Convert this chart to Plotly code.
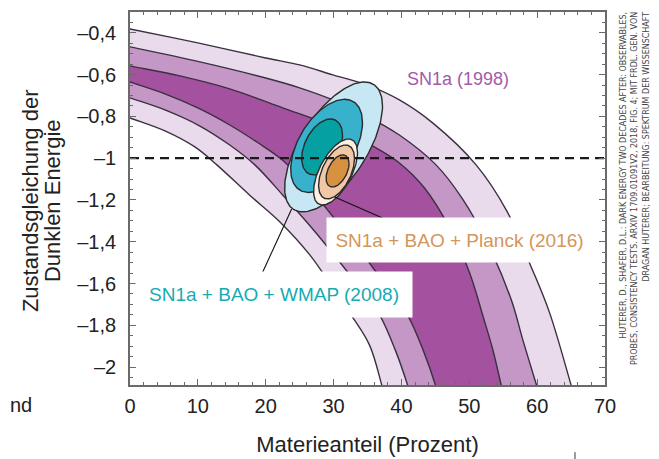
import numpy as np
import plotly.graph_objects as go

# ---------------- data ----------------
x_tick_vals = [0, 10, 20, 30, 40, 50, 60, 70]
y_tick_vals = [-0.4, -0.6, -0.8, -1.0, -1.2, -1.4, -1.6, -1.8, -2.0]
y_tick_text = ["–0,4", "–0,6", "–0,8", "–1", "–1,2", "–1,4", "–1,6", "–1,8", "–2"]

# SN1a (1998) confidence-band boundaries (Materieanteil %, w)
sn_3s_upper_x = [-3, 0, 10, 20, 25, 29.9, 34.9, 39.7, 44.6, 51.0, 55.6, 59.0, 61.8, 65.0, 66.1]
sn_3s_upper_y = [-0.361, -0.381, -0.448, -0.520, -0.553, -0.601, -0.649, -0.721, -0.831, -1.032, -1.257, -1.511, -1.737, -2.086, -2.21]
sn_2s_upper_x = [-3, 0, 10.3, 20, 25, 29.9, 34.9, 39.7, 45.1, 49.0, 52.8, 56.2, 57.9, 59.9, 61.0]
sn_2s_upper_y = [-0.447, -0.467, -0.539, -0.616, -0.663, -0.721, -0.798, -0.889, -1.032, -1.195, -1.416, -1.679, -1.871, -2.086, -2.21]
sn_1s_upper_x = [-3, 0, 7.35, 14.7, 22.5, 29.4, 36.0, 39.7, 43.4, 47.1, 50.0, 52.1, 53.4, 54.7, 55.6]
sn_1s_upper_y = [-0.538, -0.558, -0.606, -0.668, -0.759, -0.841, -0.946, -1.023, -1.143, -1.334, -1.545, -1.765, -1.909, -2.086, -2.21]
sn_1s_lower_x = [-3, 0, 5.15, 10.3, 14.7, 18.8, 22.5, 26.6, 30.9, 35.0, 38.2, 40.9, 43.2, 45.0, 46.0]
sn_1s_lower_y = [-0.602, -0.635, -0.692, -0.764, -0.841, -0.925, -1.01, -1.15, -1.32, -1.49, -1.631, -1.751, -1.919, -2.086, -2.21]
sn_2s_lower_x = [-3, 0, 5.15, 10.3, 14.7, 18.4, 22.5, 26.8, 30.9, 34.1, 36.8, 39.1, 40.9, 42.0]
sn_2s_lower_y = [-0.677, -0.711, -0.769, -0.846, -0.937, -1.032, -1.176, -1.334, -1.497, -1.631, -1.751, -1.919, -2.086, -2.21]
sn_3s_lower_x = [-3, 0, 5.15, 9.56, 12.8, 17.6, 22.1, 26.5, 30.1, 32.6, 35.3, 37.1, 38.1]
sn_3s_lower_y = [-0.771, -0.807, -0.869, -0.946, -1.032, -1.176, -1.305, -1.463, -1.631, -1.751, -1.895, -2.086, -2.21]

# combined-probe contours: centre, half-width (x), half-height (w), correlation
ell_names = ["WMAP 3σ", "WMAP 2σ", "WMAP 1σ", "Planck 3σ", "Planck 2σ", "Planck 1σ"]
ell_cx = [30.0, 28.97, 28.31, 30.29, 30.44, 30.59]
ell_cy = [-0.946, -0.941, -0.946, -1.066, -1.066, -1.061]
ell_wx = [7.21, 5.29, 3.01, 3.24, 2.65, 1.69]
ell_hy = [0.311, 0.223, 0.134, 0.158, 0.129, 0.077]
ell_rho = [0.63, 0.50, 0.41, 0.59, 0.50, 0.45]
ell_colors = ["#c6e7f3", "#38b1cd", "#05a1a2", "#fcf0e4", "#f1c8a5", "#d79141"]

w_lambda = -1.0

# leader lines (x, w) from ellipse edge to label box
leader_wmap_x = [23.82, 19.56]
leader_wmap_y = [-1.243, -1.545]
leader_planck_x = [30.15, 37.21]
leader_planck_y = [-1.186, -1.286]

band_light = "#e9dbec"
band_mid = "#c597c6"
band_dark = "#a4519f"
edge = "#3a3040"

fig = go.Figure()

def band(xa, ya, xb, yb, color):
    fig.add_trace(go.Scatter(
        x=list(xa) + list(xb)[::-1], y=list(ya) + list(yb)[::-1],
        mode="lines", fill="toself", fillcolor=color,
        line=dict(width=0, shape="spline"), hoverinfo="skip"))

band(sn_3s_upper_x, sn_3s_upper_y, sn_3s_lower_x, sn_3s_lower_y, band_light)
band(sn_2s_upper_x, sn_2s_upper_y, sn_2s_lower_x, sn_2s_lower_y, band_mid)
band(sn_1s_upper_x, sn_1s_upper_y, sn_1s_lower_x, sn_1s_lower_y, band_dark)

for cx_, cy_ in [(sn_3s_upper_x, sn_3s_upper_y), (sn_2s_upper_x, sn_2s_upper_y),
                 (sn_1s_upper_x, sn_1s_upper_y), (sn_1s_lower_x, sn_1s_lower_y),
                 (sn_2s_lower_x, sn_2s_lower_y), (sn_3s_lower_x, sn_3s_lower_y)]:
    fig.add_trace(go.Scatter(x=cx_, y=cy_, mode="lines",
                             line=dict(color=edge, width=1.4, shape="spline"),
                             hoverinfo="skip"))

t = np.linspace(0, 2 * np.pi, 181)
for i in range(len(ell_names)):
    ex = ell_cx[i] + ell_wx[i] * np.cos(t)
    ey = ell_cy[i] + ell_hy[i] * (ell_rho[i] * np.cos(t) + np.sqrt(1 - ell_rho[i] ** 2) * np.sin(t))
    fig.add_trace(go.Scatter(x=ex, y=ey, mode="lines", fill="toself",
                             fillcolor=ell_colors[i], name=ell_names[i],
                             line=dict(color="#2b2b2b", width=1.4), hoverinfo="skip"))

fig.add_trace(go.Scatter(x=[0, 70], y=[w_lambda, w_lambda], mode="lines",
                         line=dict(color="#1a1a1a", width=2.2, dash="9px,6px"),
                         hoverinfo="skip"))

for lx, ly in [(leader_wmap_x, leader_wmap_y), (leader_planck_x, leader_planck_y)]:
    fig.add_shape(type="line", x0=lx[0], y0=ly[0], x1=lx[1], y1=ly[1],
                  xref="x", yref="y", line=dict(color="#111", width=1.1), layer="above")

axis_grey = "#6a6a6a"
common = dict(showgrid=False, zeroline=False, showline=True, linecolor=axis_grey,
              linewidth=1.6, mirror="ticks", ticks="inside", ticklen=6, tickwidth=1.2,
              tickcolor=axis_grey, tickfont=dict(size=20, color="#222"), automargin=False)

fig.update_xaxes(range=[0, 70], tickvals=x_tick_vals, autorange=False,
                 minor=dict(ticks="inside", ticklen=3, dtick=2, tickcolor=axis_grey, tickwidth=1),
                 title=dict(text="Materieanteil (Prozent)", font=dict(size=22, color="#222"), standoff=21),
                 ticklabelstandoff=2, **common)
fig.update_yaxes(range=[-2.086, -0.30], tickvals=y_tick_vals, ticktext=y_tick_text, autorange=False,
                 minor=dict(ticks="inside", ticklen=3, dtick=0.05, tickcolor=axis_grey, tickwidth=1),
                 ticklabelstandoff=8, **common)

title_font = dict(size=22, color="#222")
annotations = [
    # y-axis title (two lines)
    dict(x=-0.2105, y=0.493, xref="paper", yref="paper", xanchor="center", yanchor="middle",
         text="Zustandsgleichung der", textangle=-90, showarrow=False, font=title_font),
    dict(x=-0.1642, y=0.493, xref="paper", yref="paper", xanchor="center", yanchor="middle",
         text="Dunklen Energie", textangle=-90, showarrow=False, font=title_font),
    dict(x=48.4, y=-0.619, xref="x", yref="y", text="SN1a (1998)", showarrow=False,
         font=dict(size=18, color="#a35aa8")),
    dict(x=48.6, y=-1.392, xref="x", yref="y", text="SN1a + BAO + Planck (2016)", showarrow=False,
         font=dict(size=19, color="#d4965a"), bgcolor="white", width=265, height=44, borderpad=0),
    dict(x=21.18, y=-1.655, xref="x", yref="y", text="SN1a + BAO + WMAP (2008)", showarrow=False,
         font=dict(size=19, color="#17aab4"), bgcolor="white", width=276, height=45, borderpad=0),
    dict(x=1.062, y=1.005, xref="paper", yref="paper", xanchor="center", yanchor="top",
         textangle=-90, align="right", showarrow=False,
         text=("HUTERER, D., SHAFER, D.L.: DARK ENERGY TWO DECADES AFTER: OBSERVABLES,<br>"
               "PROBES, CONSISTENCY TESTS. ARXIV 1709.01091V2, 2018, FIG. 4; MIT FRDL. GEN. VON<br>"
               "DRAGAN HUTERER; BEARBEITUNG: SPEKTRUM DER WISSENSCHAFT"),
         font=dict(size=8.9, color="#444",
                   family="Liberation Sans Narrow, DejaVu Sans Condensed, Roboto Condensed, Arial Narrow, sans-serif")),
    dict(x=-0.2568, y=-0.053, xref="paper", yref="paper", xanchor="left", yanchor="middle",
         text="nd", showarrow=False, font=dict(size=20, color="#222")),
]
# page body has an 8 px margin: figure is 651x451, placed at (8, 8)
fig.update_layout(
    width=651, height=451, margin=dict(l=122, r=54, t=4, b=74),
    paper_bgcolor="white", plot_bgcolor="white", showlegend=False,
    font=dict(family="Liberation Sans, Arial, sans-serif", color="#222"),
    annotations=annotations,
)
fig.add_shape(type="line", xref="paper", yref="paper", x0=0.9368, x1=0.9368, y0=-0.18, y1=-0.2,
              line=dict(color="#333", width=1))

fig.write_html("out.html")
